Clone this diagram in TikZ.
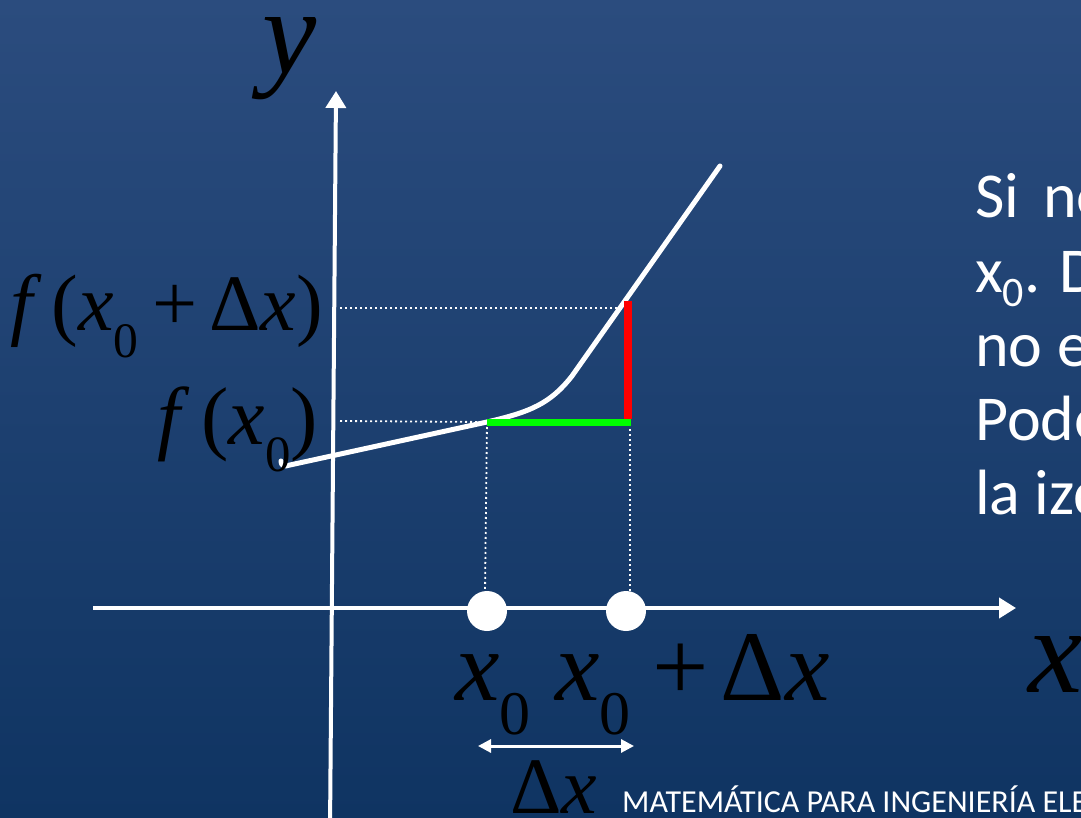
\documentclass[tikz,border=0pt]{standalone}
\usepackage{fontspec}
\usepackage{graphicx}
\setmainfont{Liberation Serif}
\newfontfamily\calfnt{Carlito}
\usetikzlibrary{arrows.meta}
\definecolor{bgtop}{RGB}{43,76,126}
\definecolor{bgbot}{RGB}{15,52,98}
\definecolor{grn}{RGB}{0,255,0}
\newcommand\xz{\textit{x}\raisebox{-0.34em}{\scalebox{0.62}{0}}}
\newcommand\dlt{\symbol{"0394}}
\begin{document}
\begin{tikzpicture}[x=1pt,y=-1pt,
  axis/.style={white, line width=4pt, -{Triangle[width=20pt,length=17pt]}},
  guide/.style={white, line width=1.8pt, dash pattern=on 2pt off 3pt},
  curve/.style={white, line width=5pt, line cap=round, line join=round},
  pt/.style={circle, fill=white, minimum size=40pt, inner sep=0pt},
  lbl/.style={text=black, inner sep=0pt},
  rtxt/.style={text=white, inner sep=0pt, anchor=base west, font=\calfnt\fontsize{64}{64}\selectfont},
  dx/.style={white, line width=3pt, {Triangle[width=13pt,length=13pt]}-{Triangle[width=13pt,length=13pt]}}]
\useasboundingbox (0,0) rectangle (1081,818);
\clip (0,0) rectangle (1081,818);
\shade[top color=bgtop, bottom color=bgbot] (0,0) rectangle (1081,818);

% axes
\coordinate (xs) at (93,608);
\coordinate (xe) at (1016,608);
\coordinate (ys) at (330,830);
\coordinate (ye) at (336,91);
\draw[axis] (xs) -- (xe);
\draw[axis] (ys) -- (ye);

% key points
\coordinate (P0) at (487,422);
\coordinate (P1) at (628,301);
\coordinate (L1) at (340,308);
\coordinate (L0) at (340,421);

% guides
\draw[guide] (L1) -- (628,308);
\draw[guide] (L0) -- (P0);
\draw[guide] (P0) -- (485,592);
\draw[guide] (630,424) -- (630,592);

% curve
\draw[curve] (281,461) .. controls (281,466) and (284,467) .. (290,465) -- (P0)
  .. controls (530,412) and (550,404) .. (572,376) -- (720,166);

% increments
\draw[grn, line width=7pt] (P0) -- (631,422);
\draw[red, line width=8pt] (P1) -- (628,419);

% points on x-axis
\node[pt] (a) at (487,611) {};
\node[pt] (b) at (626,611) {};

% labels
\node[lbl, anchor=base] (ylab) at (290,74) {\fontsize{122}{122}\selectfont\textit{y}};
\node[lbl, anchor=base west] (xlab) at (1028,692) {\fontsize{122}{122}\selectfont\textit{x}};
\node[lbl, anchor=base east] (f1) at (323,330) {\fontsize{80}{80}\selectfont\textit{f}\hspace{0.12em}(\xz\hspace{0.18em}+\hspace{0.14em}\dlt\textit{x})};
\node[lbl, anchor=base east] (f0) at (318,444) {\fontsize{82}{82}\selectfont\textit{f}\hspace{0.14em}(\xz)};
\node[lbl, anchor=base west] (x0) at (455,700) {\fontsize{100}{100}\selectfont\xz};
\node[lbl, anchor=base west] (x0d) at (555,700) {\fontsize{100}{100}\selectfont\xz\hspace{0.22em}+\hspace{0.12em}\dlt\textit{x}};

\coordinate (dl) at (478,746);
\coordinate (dr) at (634,746);
\draw[dx] (dl) -- (dr);
\node[lbl, anchor=base west] (dxl) at (510,813) {\fontsize{80}{80}\selectfont\dlt\textit{x}};

% right text
\node[rtxt] (t1) at (975,218) {Si\hspace{24pt}no};
\node[rtxt] (t2) at (975,292) {x\raisebox{-0.22em}{\fontsize{42}{42}\selectfont 0}. De};
\node[rtxt] (t3) at (975,366) {no es};
\node[rtxt] (t4) at (975,440) {Podemos};
\node[rtxt] (t5) at (975,514) {la izq};
\node[text=white, inner sep=0pt, anchor=base west, font=\calfnt\fontsize{32}{32}\selectfont] (foot) at (622,812) {MATEMÁTICA PARA INGENIERÍA ELE};
\end{tikzpicture}
\end{document}
